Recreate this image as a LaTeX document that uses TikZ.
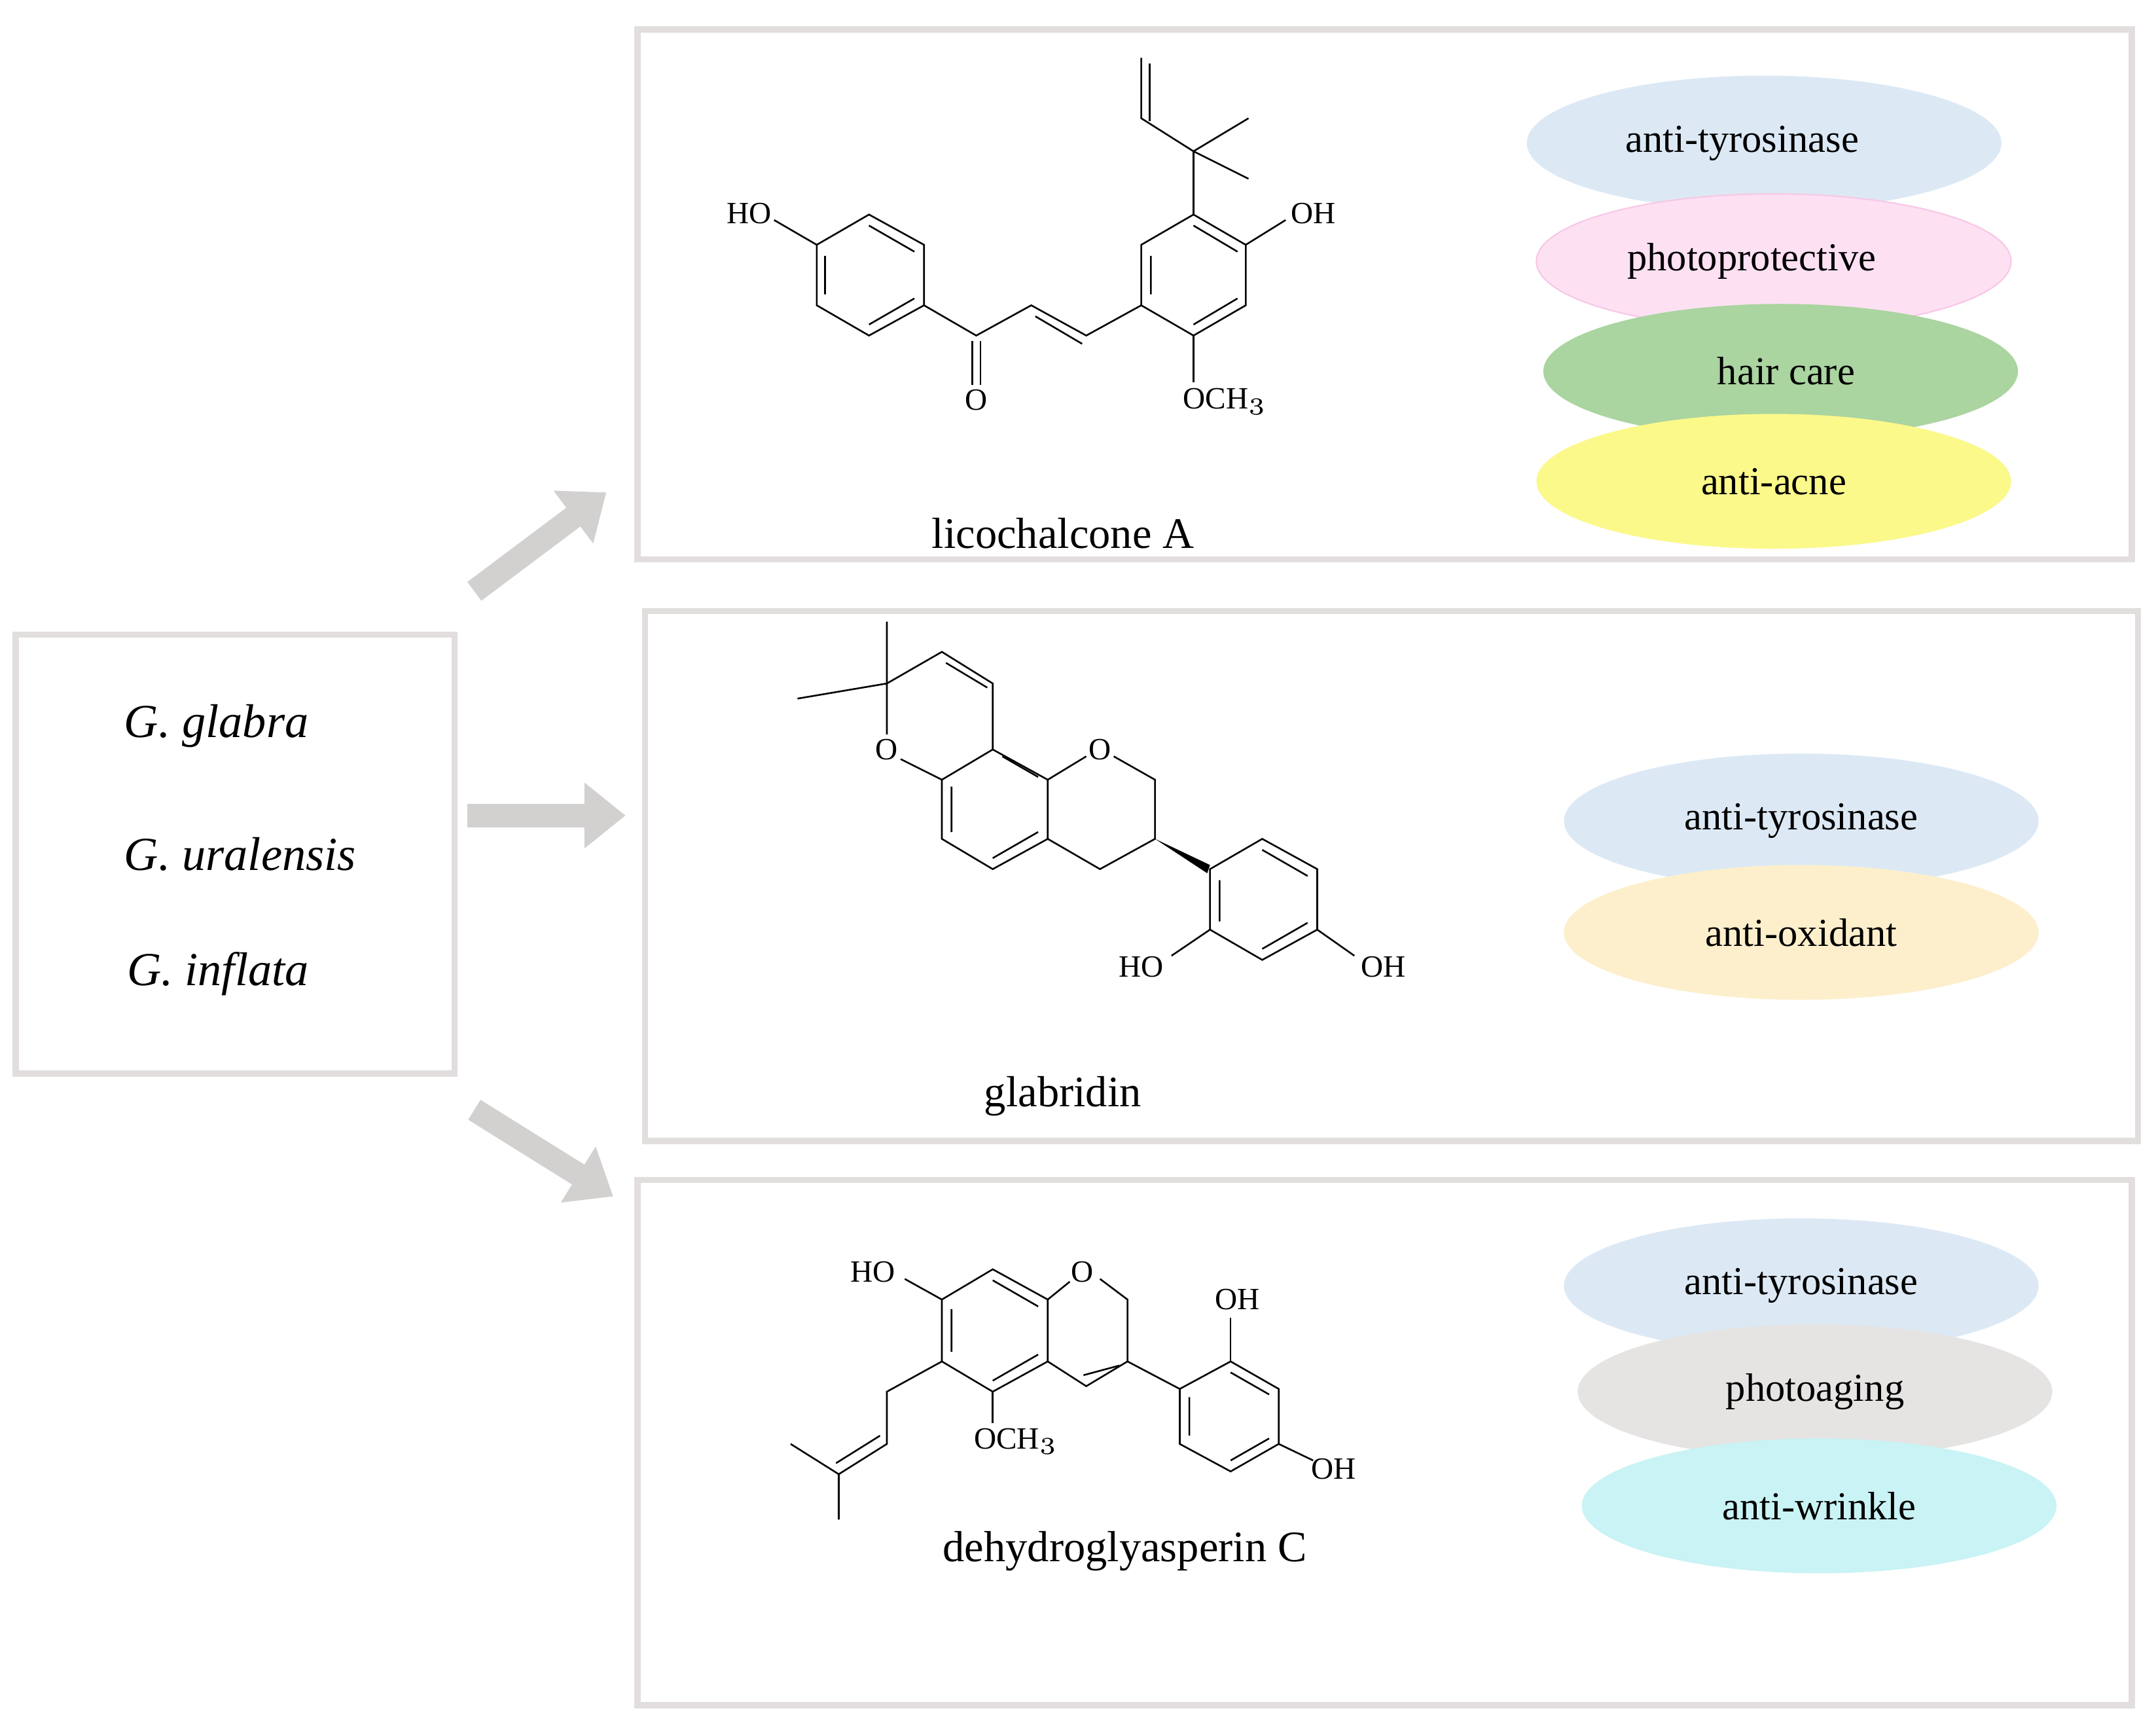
\documentclass[tikz,border=0pt]{standalone}
\usepackage{fontspec}
\setmainfont{Liberation Serif}
\usetikzlibrary{arrows.meta,shapes.geometric}
\definecolor{bx}{HTML}{E2DEDE}
\definecolor{ar}{HTML}{D3D0D0}
\begin{document}
\begin{tikzpicture}[x=0.01cm,y=-0.01cm,
 box/.style={draw=bx,line width=0.045cm},
 ell/.style={ellipse,minimum width=3.45cm,minimum height=0.98cm,inner sep=0pt,font=\fontsize{8.2pt}{9pt}\selectfont},
 bd/.style={line width=0.35pt},
 atm/.style={font=\fontsize{6.4pt}{7pt}\selectfont,inner sep=0.5pt},
 lab/.style={font=\fontsize{9pt}{10pt}\selectfont},
 big/.style={ar,line width=0.17cm,-{Triangle[width=0.46cm,length=0.3cm]}}]
\useasboundingbox[fill=white] (0,0) rectangle (1568,1262);
% boxes
\node[box,minimum width=3.19cm,minimum height=3.19cm] (src) at (171,621) {};
\node[box,minimum width=10.86cm,minimum height=3.85cm] (b1) at (1007,214) {};
\node[box,minimum width=10.85cm,minimum height=3.85cm] (b2) at (1012,637) {};
\node[box,minimum width=10.86cm,minimum height=3.82cm] (b3) at (1007,1049) {};
\node[font=\fontsize{9.8pt}{11pt}\selectfont\itshape,anchor=west] (g1) at (78,528) {G. glabra};
\node[font=\fontsize{9.8pt}{11pt}\selectfont\itshape,anchor=west] (g2) at (78,621) {G. uralensis};
\node[font=\fontsize{9.8pt}{11pt}\selectfont\itshape,anchor=west] (g3) at (80,708) {G. inflata};
% arrows
\coordinate (a1s) at (345,430); \coordinate (a1e) at (441,358);
\coordinate (a2s) at (340,593); \coordinate (a2e) at (455,593);
\coordinate (a3s) at (345,807); \coordinate (a3e) at (446,870);
\draw[big] (a1s) -- (a1e);
\draw[big] (a2s) -- (a2e);
\draw[big] (a3s) -- (a3e);
% ellipses
\node[ell,fill={rgb,255:red,220;green,233;blue,245}] (e11) at (1283,104) {};
\node[ell,fill={rgb,255:red,253;green,225;blue,243},draw={rgb,255:red,248;green,200;blue,230},line width=0.3pt] (e12) at (1290,190) {};
\node[ell,fill={rgb,255:red,170;green,212;blue,160}] (e13) at (1295,270) {};
\node[ell,fill={rgb,255:red,251;green,249;blue,138}] (e14) at (1290,350) {anti-acne};
\node[ell] at (1267,104) {anti-tyrosinase};
\node[ell] at (1274,190) {photoprotective};
\node[ell] at (1299,270) {hair care};
\node[ell,fill={rgb,255:red,220;green,233;blue,245}] (e21) at (1310,597) {anti-tyrosinase};
\node[ell,fill={rgb,255:red,253;green,239;blue,204}] (e22) at (1310,678) {anti-oxidant};
\node[ell,fill={rgb,255:red,220;green,233;blue,245}] (e31) at (1310,935) {anti-tyrosinase};
\node[ell,fill={rgb,255:red,230;green,227;blue,227}] (e32) at (1320,1012) {photoaging};
\node[ell,fill={rgb,255:red,201;green,243;blue,244}] (e33) at (1323,1095) {anti-wrinkle};
% names
\node[lab] (n1) at (773,388) {licochalcone A};
\node[lab] (n2) at (773,797) {glabridin};
\node[lab] (n3) at (818,1128) {dehydroglyasperin C};
% licochalcone A
\draw[bd] (594,178)--(632,156)--(672,178)--(672,222)--(632,244)--(594,222)--cycle;
\draw[bd] (600,186)--(600,214) (632,164)--(665,183) (632,236)--(665,217);
\draw[bd] (594,178)--(563,160);
\node[atm] at (545,155) {HO};
\draw[bd] (672,222)--(710,244)--(750,222)--(790,244)--(830,222);
\draw[bd] (753,230)--(787,250);
\draw[bd] (707,248)--(707,280) (713,248)--(713,280);
\node[atm] at (710,291) {O};
\draw[bd] (830,178)--(868,156)--(906,178)--(906,222)--(868,244)--(830,222)--cycle;
\draw[bd] (837,186)--(837,214) (868,164)--(900,183) (868,236)--(900,217);
\draw[bd] (906,178)--(935,160);
\node[atm] at (955,155) {OH};
\draw[bd] (868,244)--(868,278);
\node[atm,anchor=west] at (858,292) {OCH$_3$};
\draw[bd] (868,156)--(868,110)--(908,86) (868,110)--(908,130) (868,110)--(830,86)--(830,42);
\draw[bd] (836,88)--(836,46);
% glabridin
\draw[bd] (645,497)--(685,474)--(722,497)--(722,545)--(685,567)--(685,610)--(722,632)--(762,610)--(762,567)--(722,545);
\draw[bd] (688,482)--(718,500) (692,572)--(692,605) (722,624)--(755,605) (729,550)--(755,565);
\draw[bd] (645,497)--(645,452) (645,497)--(580,508) (645,497)--(645,534) (655,552)--(685,567);
\node[atm] at (645,545) {O};
\draw[bd] (762,567)--(790,550) (810,550)--(840,567)--(840,610)--(800,632)--(762,610);
\node[atm] at (800,545) {O};
\fill (840,610)--(880,629)--(878,635)--cycle;
\draw[bd] (880,632)--(918,610)--(958,632)--(958,676)--(918,698)--(880,676)--cycle;
\draw[bd] (887,640)--(887,670) (918,618)--(951,637) (918,690)--(951,671);
\draw[bd] (880,676)--(852,695) (958,676)--(985,695);
\node[atm] at (830,703) {HO};
\node[atm] at (1006,703) {OH};
% dehydroglyasperin C
\draw[bd] (685,945)--(722,923)--(762,945)--(762,990)--(722,1012)--(685,990)--cycle;
\draw[bd] (692,952)--(692,983) (722,931)--(755,950) (722,1004)--(755,985);
\draw[bd] (685,945)--(658,930);
\node[atm] at (635,925) {HO};
\draw[bd] (762,945)--(778,932) (800,930)--(820,945)--(820,990)--(790,1008)--(762,990);
\node[atm] at (787,925) {O};
\draw[bd] (814,993)--(788,1000);
\draw[bd] (820,990)--(858,1010);
\draw[bd] (858,1010)--(895,990)--(930,1010)--(930,1050)--(895,1070)--(858,1050)--cycle;
\draw[bd] (865,1016)--(865,1044) (895,998)--(923,1014) (895,1062)--(923,1046);
\draw[bd] (895,990)--(895,958);
\node[atm] at (900,945) {OH};
\draw[bd] (930,1050)--(955,1062);
\node[atm] at (970,1068) {OH};
\draw[bd] (722,1012)--(722,1035);
\node[atm,anchor=west] at (706,1048) {OCH$_3$};
\draw[bd] (685,990)--(645,1012)--(645,1050)--(610,1072)--(575,1050) (610,1072)--(610,1105);
\draw[bd] (640,1044)--(608,1064);
\end{tikzpicture}
\end{document}
